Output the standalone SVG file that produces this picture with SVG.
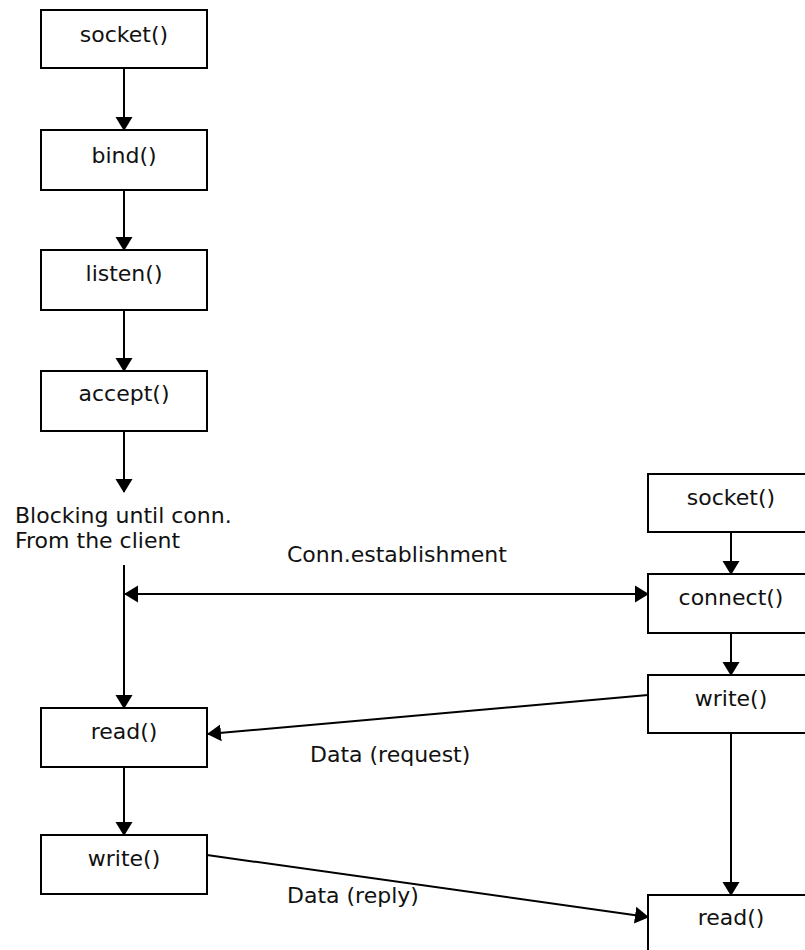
<svg xmlns="http://www.w3.org/2000/svg" width="805" height="950" viewBox="0 0 805 950">
<style>
.box rect{fill:#fff;stroke:#000;stroke-width:2}
text{font-family:"DejaVu Sans","Liberation Sans",sans-serif;font-size:22px;fill:#111}
.box text{text-anchor:middle}
#connectors line{stroke:#000;stroke-width:2;fill:none}
</style>
<defs>
<marker id="ah" markerUnits="userSpaceOnUse" markerWidth="14" markerHeight="18" refX="13" refY="8.5" orient="auto-start-reverse" viewBox="0 0 14 17">
<path d="M0,0 L14,8.5 L0,17 z" fill="#000"/>
</marker>
</defs>
<rect width="805" height="950" fill="#fff"/>
<g id="connectors">
<line x1="124" y1="68" x2="124" y2="130" marker-end="url(#ah)"/>
<line x1="124" y1="190" x2="124" y2="250" marker-end="url(#ah)"/>
<line x1="124" y1="310" x2="124" y2="371" marker-end="url(#ah)"/>
<line x1="124" y1="431" x2="124" y2="492" marker-end="url(#ah)"/>
<line x1="124" y1="565" x2="124" y2="708" marker-end="url(#ah)"/>
<line x1="124" y1="767" x2="124" y2="835" marker-end="url(#ah)"/>
<line x1="731" y1="532" x2="731" y2="574" marker-end="url(#ah)"/>
<line x1="731" y1="633" x2="731" y2="675" marker-end="url(#ah)"/>
<line x1="731" y1="733" x2="731" y2="895" marker-end="url(#ah)"/>
<line x1="125" y1="594" x2="648" y2="594" marker-start="url(#ah)" marker-end="url(#ah)"/>
<line x1="648" y1="695" x2="208" y2="734" marker-end="url(#ah)"/>
<line x1="207" y1="855" x2="648" y2="917" marker-end="url(#ah)"/>
</g>
<g id="server-socket" class="box"><rect x="41" y="10" width="166" height="58"/><text x="124" y="42">socket()</text></g>
<g id="server-bind" class="box"><rect x="41" y="130" width="166" height="60"/><text x="124" y="163">bind()</text></g>
<g id="server-listen" class="box"><rect x="41" y="250" width="166" height="60"/><text x="124" y="281">listen()</text></g>
<g id="server-accept" class="box"><rect x="41" y="371" width="166" height="60"/><text x="124" y="401">accept()</text></g>
<g id="server-read" class="box"><rect x="41" y="708" width="166" height="59"/><text x="124" y="739">read()</text></g>
<g id="server-write" class="box"><rect x="41" y="835" width="166" height="59"/><text x="124" y="866">write()</text></g>
<g id="client-socket" class="box"><rect x="648" y="474" width="166" height="58"/><text x="731" y="505">socket()</text></g>
<g id="client-connect" class="box"><rect x="648" y="574" width="166" height="59"/><text x="731" y="605">connect()</text></g>
<g id="client-write" class="box"><rect x="648" y="675" width="166" height="58"/><text x="731" y="706">write()</text></g>
<g id="client-read" class="box"><rect x="648" y="895" width="166" height="60"/><text x="731" y="925">read()</text></g>
<g id="labels">
<text x="15" y="523">Blocking until conn.</text>
<text x="15" y="548">From the client</text>
<text x="287" y="562">Conn.establishment</text>
<text x="310" y="762">Data (request)</text>
<text x="287" y="903">Data (reply)</text>
</g>
</svg>
